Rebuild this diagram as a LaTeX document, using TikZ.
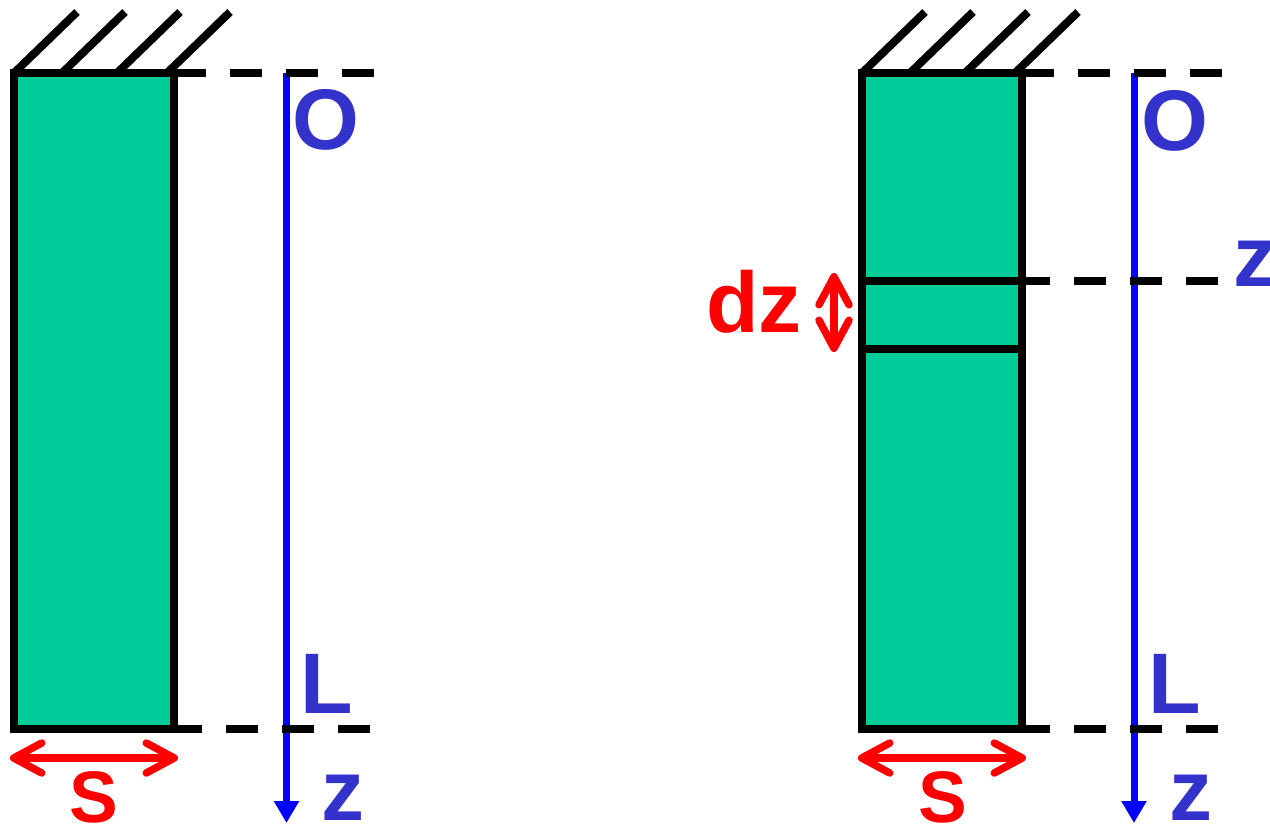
\documentclass[tikz,border=0pt]{standalone}
\usepackage{fontspec}
\setmainfont{Liberation Sans}
\usetikzlibrary{arrows.meta}
\definecolor{bargreen}{RGB}{0,204,153}
\definecolor{axisblue}{RGB}{0,0,255}
\definecolor{lblblue}{RGB}{51,51,204}
\definecolor{dimred}{RGB}{255,0,0}
\tikzset{
  bar/.style={draw=black, fill=bargreen, line width=8pt, line join=miter},
  slice/.style={draw=black, line width=8pt},
  hatch/.style={draw=black, line width=8pt, line cap=butt},
  refline/.style={draw=black, line width=8pt, dash pattern=on 32pt off 24pt},
  refline2/.style={draw=black, line width=8pt, dash pattern=on 32pt off 24pt, dash phase=4pt},
  axis/.style={draw=axisblue, line width=7pt, -{Triangle[length=22pt,width=24pt]}},
  dimarrow/.style={draw=dimred, line width=7.5pt, {Straight Barb[length=28pt,width=30pt,round]}-{Straight Barb[length=28pt,width=30pt,round]}},
  lbl/.style={inner sep=0pt, anchor=base, font=\bfseries\fontsize{86pt}{86pt}\selectfont},
  bluelbl/.style={lbl, text=lblblue},
  redlbl/.style={lbl, text=dimred},
  slbl/.style={redlbl, font=\bfseries\fontsize{73pt}{73pt}\selectfont}
}
\begin{document}
\begin{tikzpicture}[x=1pt, y=-1pt]
\useasboundingbox (0,0) rectangle (1270,825);

% ---------------- left figure ----------------
\coordinate (A1) at (14,73);
\coordinate (B1) at (174,729);
\coordinate (TR1) at (174,73);
\coordinate (BR1) at (174,729);
\coordinate (TE1) at (374,73);
\coordinate (BE1) at (370,729);
\coordinate (AX1s) at (286.5,73);
\coordinate (AX1e) at (286.5,823);
\coordinate (S1a) at (10,758);
\coordinate (S1b) at (178,758);

\draw[bar] (A1) rectangle (B1);
\foreach \x in {14,62,117,167} {
  \draw[hatch] (\x,73) -- ++(63,-61);
}
\draw[axis] (AX1s) -- (AX1e);
\draw[refline] (TR1) -- (TE1);
\draw[refline2] (BR1) -- (BE1);
\draw[dimarrow] (S1a) -- (S1b);

\node[bluelbl] (O1) at (326,149) {O};
\node[bluelbl] (L1) at (326.5,713) {L};
\node[bluelbl] (z1) at (342.5,820) {z};
\node[slbl] (S1) at (94,822) {S};

% ---------------- right figure ----------------
\coordinate (A2) at (862,73);
\coordinate (B2) at (1022,729);
\coordinate (TR2) at (1022,73);
\coordinate (BR2) at (1022,729);
\coordinate (TE2) at (1222,73);
\coordinate (BE2) at (1218,729);
\coordinate (AX2s) at (1134,73);
\coordinate (AX2e) at (1134,823);
\coordinate (S2a) at (858,758);
\coordinate (S2b) at (1026,758);
\coordinate (Z1l) at (862,281);
\coordinate (Z1r) at (1022,281);
\coordinate (Z1e) at (1218,281);
\coordinate (Z2l) at (862,349);
\coordinate (Z2r) at (1022,349);
\coordinate (D1) at (834,273);
\coordinate (D2) at (834,352);

\draw[bar] (A2) rectangle (B2);
\foreach \x in {862,910,965,1015} {
  \draw[hatch] (\x,73) -- ++(63,-61);
}
\draw[slice] (Z1l) -- (Z1r);
\draw[slice] (Z2l) -- (Z2r);
\draw[axis] (AX2s) -- (AX2e);
\draw[refline] (TR2) -- (TE2);
\draw[refline2] (BR2) -- (BE2);
\draw[refline2] (Z1r) -- (Z1e);
\draw[dimarrow] (S2a) -- (S2b);
\draw[dimarrow] (D1) -- (D2);

\node[bluelbl] (O2) at (1175,150) {O};
\node[bluelbl] (L2) at (1174.5,713) {L};
\node[bluelbl] (z2) at (1191,820) {z};
\node[bluelbl] (z3) at (1254.5,286) {z};
\node[slbl] (S2) at (942.5,822) {S};
\node[redlbl] (dz) at (754,332) {dz};
\end{tikzpicture}
\end{document}
